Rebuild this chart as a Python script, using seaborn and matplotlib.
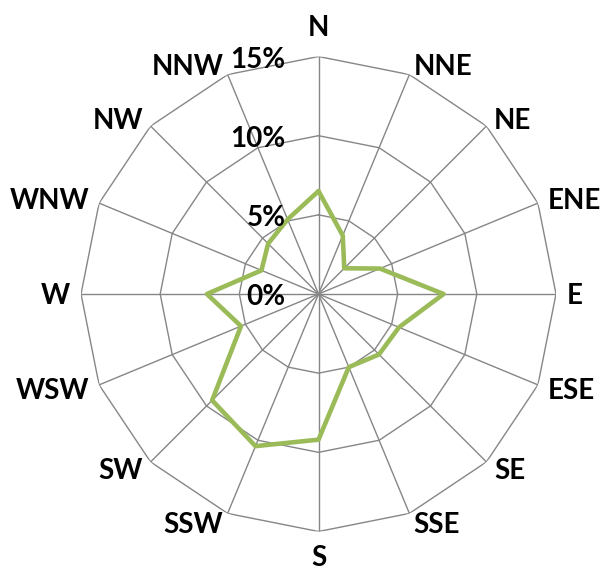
import matplotlib
matplotlib.use("Agg")
import matplotlib.pyplot as plt
import numpy as np
import seaborn as sns
from matplotlib.transforms import offset_copy

directions = ["N", "NNE", "NE", "ENE", "E", "ESE", "SE", "SSE",
              "S", "SSW", "SW", "WSW", "W", "WNW", "NW", "NNW"]
frequency = [6.5, 4.0, 2.3, 4.2, 7.9, 5.5, 5.4, 5.0,
             9.2, 10.4, 9.5, 5.3, 7.05, 3.9, 4.5, 5.1]
ring_values = [0, 5, 10, 15]
ring_labels = ["0%", "5%", "10%", "15%"]

line_color = "#9BBB59"
grid_color = "#868686"

sns.set_style("white")
plt.rcParams["font.family"] = ["Lato", "DejaVu Sans"]

fig = plt.figure(figsize=(6, 5.72), dpi=100)
ax = fig.add_axes([0.135, 0.0708, 0.7917, 0.8304], projection="polar")
ax.set_theta_zero_location("N")
ax.set_theta_direction(-1)

angles = np.deg2rad(np.arange(len(directions)) * 22.5)
closed_angles = np.append(angles, angles[0])

# polygon grid like excel's radar chart
for r in ring_values[1:]:
    ax.plot(closed_angles, [r] * len(closed_angles), color=grid_color, lw=1, zorder=1)
for a in angles:
    ax.plot([a, a], [0, ring_values[-1]], color=grid_color, lw=1, zorder=1)

sns.lineplot(x=closed_angles, y=np.append(frequency, frequency[0]), sort=False,
             estimator=None, color=line_color, lw=3.3, ax=ax, zorder=3)

ax.grid(False)
ax.spines["polar"].set_visible(False)
ax.set_xticks([])
ax.set_yticks([])
ax.set_ylim(0, 15)
ax.set_xlabel("")
ax.set_ylabel("")

label_kw = dict(fontsize=20, fontweight="bold", color="black")

# direction labels sit just outside the outer ring
for a, name in zip(angles, directions):
    s, c = np.sin(a), np.cos(a)
    if abs(s) < 0.1:
        ha = "center"
        dx, dy = 0, (21 if c > 0 else -34)
    else:
        ha = "left" if s > 0 else "right"
        dx, dy = 11 * s, 10 * c - 10
    tr = offset_copy(ax.transData, fig=fig, x=dx, y=dy, units="dots")
    ax.text(a, ring_values[-1], name, transform=tr, ha=ha, va="baseline", **label_kw)

pct_tr = offset_copy(ax.transData, fig=fig, x=-33, y=-11, units="dots")
for r, lab in zip(ring_values, ring_labels):
    ax.text(0, r, lab, transform=pct_tr, ha="right", va="baseline", **label_kw)

fig.savefig("out.png", dpi=100)
